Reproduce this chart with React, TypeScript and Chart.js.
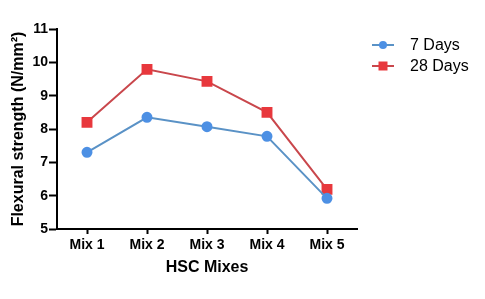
import React, { useEffect, useRef } from "react";
import { Chart, registerables } from "chart.js";

Chart.register(...registerables);

const categories = ["Mix 1", "Mix 2", "Mix 3", "Mix 4", "Mix 5"];
const days7 = [7.3, 8.35, 8.07, 7.78, 5.92];
const days28 = [8.2, 9.79, 9.43, 8.5, 6.19];
const seriesNames = ["7 Days", "28 Days"];
const yTicks = [5, 6, 7, 8, 9, 10, 11];

const FONT = "Arial, 'Liberation Sans', sans-serif";

const legendPlugin = {
  id: "customLegend",
  afterDraw(chart: any) {
    const ctx = chart.ctx;
    const ds = chart.data.datasets;
    ctx.save();
    ds.forEach((d: any, i: number) => {
      const y = 45 + i * 21;
      const x0 = 372;
      const x1 = 394;
      ctx.strokeStyle = d.borderColor;
      ctx.lineWidth = 2;
      ctx.beginPath();
      ctx.moveTo(x0, y);
      ctx.lineTo(x1, y);
      ctx.stroke();
      ctx.fillStyle = d.pointBackgroundColor;
      ctx.beginPath();
      if (d.pointStyle === "rect") {
        ctx.rect(383 - 4.5, y - 4.5, 9, 9);
      } else {
        ctx.arc(383, y, 4, 0, Math.PI * 2);
      }
      ctx.fill();
      ctx.fillStyle = "#000";
      ctx.font = `16px ${FONT}`;
      ctx.textBaseline = "middle";
      ctx.textAlign = "left";
      ctx.fillText(d.label, 410, y + 1);
    });
    ctx.restore();
  },
};

export default function App() {
  const ref = useRef<HTMLCanvasElement | null>(null);

  useEffect(() => {
    if (!ref.current) return;
    const chart = new Chart(ref.current, {
      type: "line",
      data: {
        labels: categories,
        datasets: [
          {
            label: seriesNames[0],
            data: days7,
            borderColor: "#5a92c6",
            backgroundColor: "#4d90e4",
            pointBackgroundColor: "#4d90e4",
            pointBorderColor: "#4d90e4",
            pointStyle: "circle",
            pointRadius: 4.5,
            borderWidth: 2,
            tension: 0,
          },
          {
            label: seriesNames[1],
            data: days28,
            borderColor: "#c9474c",
            backgroundColor: "#e8383d",
            pointBackgroundColor: "#e8383d",
            pointBorderColor: "#e8383d",
            pointStyle: "rect",
            pointRadius: 6.3,
            borderWidth: 2,
            tension: 0,
          },
        ],
      },
      options: {
        responsive: false,
        animation: false,
        layout: { padding: { top: 29, right: 128, left: 0, bottom: 0 } },
        plugins: {
          legend: { display: false },
          tooltip: { enabled: false },
        },
        scales: {
          x: {
            offset: true,
            grid: {
              display: true,
              drawOnChartArea: false,
              tickLength: 5,
              tickColor: "#000",
              tickWidth: 2,
            },
            border: { color: "#000", width: 2 },
            ticks: {
              color: "#000",
              font: { family: FONT, size: 14, weight: "bold" },
              padding: 3,
              maxRotation: 0,
            },
            title: {
              display: true,
              text: "HSC Mixes",
              color: "#000",
              font: { family: FONT, size: 16, weight: "bold" },
              padding: { top: 0, bottom: 22 },
            },
            afterFit: (s: any) => {
              s.height = 70;
            },
          },
          y: {
            min: 5,
            max: 11,
            afterBuildTicks: (s: any) => {
              s.ticks = yTicks.map((v) => ({ value: v }));
            },
            grid: {
              display: true,
              drawOnChartArea: false,
              tickLength: 8,
              tickColor: "#000",
              tickWidth: 2,
            },
            border: { color: "#000", width: 2 },
            ticks: {
              color: "#000",
              font: { family: FONT, size: 14, weight: "bold" },
              padding: 1,
            },
            title: {
              display: true,
              text: "Flexural strength (N/mm²)",
              color: "#000",
              font: { family: FONT, size: 16, weight: "bold" },
              padding: { top: 9, bottom: 0 },
            },
            afterFit: (s: any) => {
              s.width = 57;
            },
          },
        },
      },
      plugins: [legendPlugin],
    });
    return () => chart.destroy();
  }, []);

  return (
    <div style={{ position: "absolute", left: 0, top: 0, width: 485, height: 299, background: "#fff" }}>
      <canvas ref={ref} width={485} height={299} style={{ width: 485, height: 299 }} />
    </div>
  );
}
